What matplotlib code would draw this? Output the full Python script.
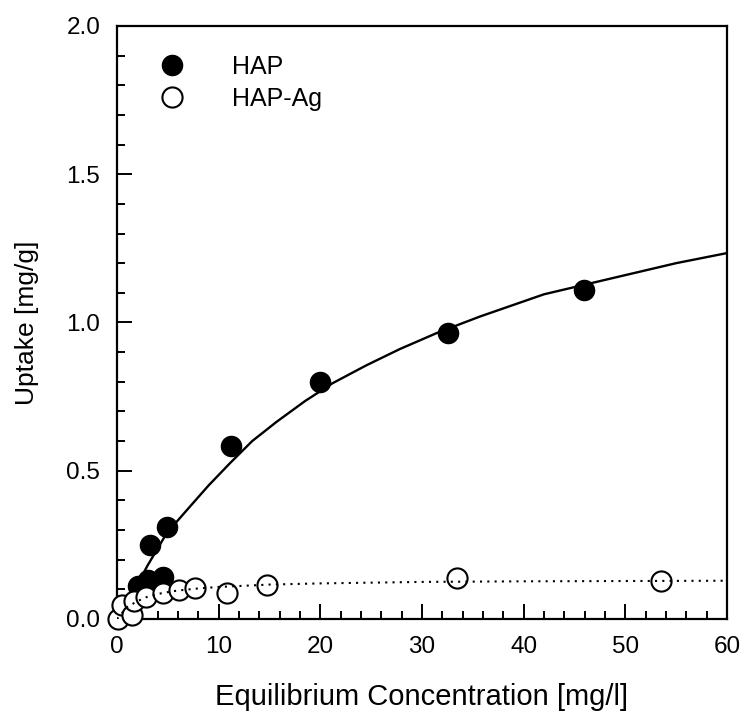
import matplotlib
matplotlib.use('Agg')
import matplotlib.pyplot as plt
from matplotlib.ticker import MultipleLocator

plt.rcParams['font.family'] = ['Liberation Sans', 'DejaVu Sans']

# measured points
hap_c = [2.1, 3.0, 3.2, 4.5, 4.9, 11.2, 20.0, 32.6, 45.9]
hap_q = [0.11, 0.13, 0.25, 0.14, 0.31, 0.585, 0.80, 0.965, 1.11]

hapag_c = [0.1, 0.5, 1.5, 1.7, 2.9, 4.5, 6.1, 7.7, 10.8, 14.8, 33.4, 53.5]
hapag_q = [0.0, 0.047, 0.013, 0.06, 0.074, 0.088, 0.098, 0.105, 0.087, 0.114, 0.138, 0.128]

# fitted curves
hap_fit_c = [0, 1.6, 3.0, 4.9, 7.2, 9.0, 11.1, 13.3, 15.7, 18.5, 21.2, 24.5, 27.8, 31.5,
             35.7, 42.0, 48.8, 55.0, 60.0]
hap_fit_q = [0, 0.09, 0.18, 0.29, 0.38, 0.45, 0.525, 0.60, 0.665, 0.735, 0.795, 0.855,
             0.91, 0.965, 1.02, 1.095, 1.15, 1.20, 1.234]

hapag_fit_c = [0, 1, 2, 3, 4.5, 6, 8, 10, 15, 20, 30, 40, 60]
hapag_fit_q = [0, 0.04, 0.06, 0.075, 0.088, 0.096, 0.103, 0.108, 0.116, 0.12, 0.125, 0.127, 0.129]

fig = plt.figure(figsize=(7.51, 7.21), dpi=100)
ax = fig.add_axes([0.1558, 0.1415, 0.8122, 0.8225])

ax.plot(hap_fit_c, hap_fit_q, color='black', lw=1.7, zorder=2)
ax.plot(hap_c, hap_q, 'o', color='black', ms=14.5, zorder=3, label='HAP', clip_on=False)
ax.plot(hapag_c, hapag_q, 'o', mfc='white', mec='black', mew=1.5, ms=14.5, zorder=4,
        label='HAP-Ag', clip_on=False)
ax.plot(hapag_fit_c, hapag_fit_q, color='black', lw=1.5, ls=(0, (1, 2.5)), zorder=5)

ax.set_xlim(0, 60)
ax.set_ylim(0, 2.0)
ax.xaxis.set_major_locator(MultipleLocator(10))
ax.xaxis.set_minor_locator(MultipleLocator(2))
ax.yaxis.set_major_locator(MultipleLocator(0.5))
ax.yaxis.set_minor_locator(MultipleLocator(0.1))
ax.yaxis.set_major_formatter(plt.FormatStrFormatter('%.1f'))

ax.tick_params(which='both', direction='in', width=1.4, labelsize=17.5)
ax.tick_params(which='major', length=11, pad=12)
ax.tick_params(which='minor', length=5.5)
for s in ax.spines.values():
    s.set_linewidth(1.6)

ax.set_xlabel('Equilibrium Concentration [mg/l]', fontsize=21, labelpad=18)
ax.set_ylabel('Uptake [mg/g]', fontsize=19, labelpad=20)

ax.legend(loc='upper left', bbox_to_anchor=(0.049, 0.951), frameon=False, fontsize=18,
          borderpad=0, borderaxespad=0, handlelength=2, handletextpad=1.4,
          labelspacing=0.3)

fig.savefig('out.png', dpi=100)
